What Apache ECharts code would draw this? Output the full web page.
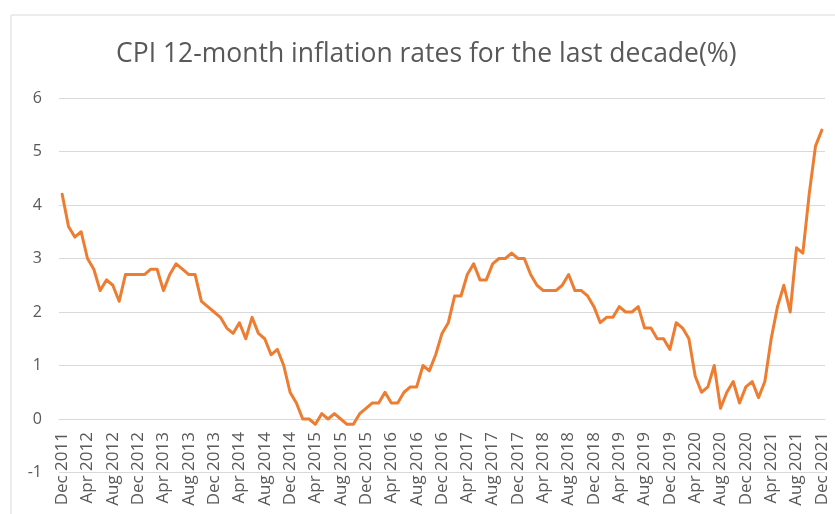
<!DOCTYPE html>
<html>
<head>
<meta charset="utf-8">
<script src="https://cdn.jsdelivr.net/npm/echarts@6/dist/echarts.min.js"></script>
<style>
  html, body { margin: 0; padding: 0; background: #ffffff; }
  #chart { width: 835px; height: 514px; }
</style>
</head>
<body>
<div id="chart"></div>
<script>
// Month names and years used for the category labels
const monthNames = ['Jan','Feb','Mar','Apr','May','Jun','Jul','Aug','Sep','Oct','Nov','Dec'];
const years = [2012, 2013, 2014, 2015, 2016, 2017, 2018, 2019, 2020, 2021];

// CPI 12-month inflation rate (%)
const dec2011 = [4.2];
const rates2012 = [3.6, 3.4, 3.5, 3.0, 2.8, 2.4, 2.6, 2.5, 2.2, 2.7, 2.7, 2.7];
const rates2013 = [2.7, 2.8, 2.8, 2.4, 2.7, 2.9, 2.8, 2.7, 2.7, 2.2, 2.1, 2.0];
const rates2014 = [1.9, 1.7, 1.6, 1.8, 1.5, 1.9, 1.6, 1.5, 1.2, 1.3, 1.0, 0.5];
const rates2015 = [0.3, 0.0, 0.0, -0.1, 0.1, 0.0, 0.1, 0.0, -0.1, -0.1, 0.1, 0.2];
const rates2016 = [0.3, 0.3, 0.5, 0.3, 0.3, 0.5, 0.6, 0.6, 1.0, 0.9, 1.2, 1.6];
const rates2017 = [1.8, 2.3, 2.3, 2.7, 2.9, 2.6, 2.6, 2.9, 3.0, 3.0, 3.1, 3.0];
const rates2018 = [3.0, 2.7, 2.5, 2.4, 2.4, 2.4, 2.5, 2.7, 2.4, 2.4, 2.3, 2.1];
const rates2019 = [1.8, 1.9, 1.9, 2.1, 2.0, 2.0, 2.1, 1.7, 1.7, 1.5, 1.5, 1.3];
const rates2020 = [1.8, 1.7, 1.5, 0.8, 0.5, 0.6, 1.0, 0.2, 0.5, 0.7, 0.3, 0.6];
const rates2021 = [0.7, 0.4, 0.7, 1.5, 2.1, 2.5, 2.0, 3.2, 3.1, 4.2, 5.1, 5.4];

const yTicks = [-1, 0, 1, 2, 3, 4, 5, 6];

const categories = ['Dec 2011'];
years.forEach(y => monthNames.forEach(m => categories.push(m + ' ' + y)));
const values = [].concat(dec2011, rates2012, rates2013, rates2014, rates2015,
  rates2016, rates2017, rates2018, rates2019, rates2020, rates2021);

const gridTop = 98, gridBottom = 41.5, chartH = 514;
// distance from the bottom of the plot (y = -1) up to y = 0
const zeroOffset = (chartH - gridTop - gridBottom) / (yTicks.length - 1) * (0 - yTicks[0]);

const chart = echarts.init(document.getElementById('chart'), null, { renderer: 'canvas' });
chart.setOption({
  animation: false,
  backgroundColor: '#ffffff',
  title: {
    text: 'CPI 12-month inflation rates for the last decade(%)',
    left: 111,
    top: 36,
    textStyle: {
      fontFamily: 'Open Sans',
      fontSize: 26.5,
      fontWeight: 'normal',
      color: '#595959'
    }
  },
  graphic: [{
    type: 'rect',
    shape: { x: 11, y: 15, width: 900, height: 600 },
    style: { fill: 'none', stroke: '#d9d9d9', lineWidth: 1 },
    silent: true,
    z: -1
  }],
  grid: { left: 59, right: 10, top: gridTop, bottom: gridBottom, outerBoundsMode: 'none', containLabel: false },
  xAxis: {
    type: 'category',
    data: categories,
    boundaryGap: true,
    position: 'bottom',
    offset: -zeroOffset,
    axisLine: { show: true, onZero: false, lineStyle: { color: '#d9d9d9', width: 1 } },
    axisTick: { show: false },
    axisLabel: {
      interval: 3,
      rotate: 90,
      margin: 13,
      fontFamily: 'Open Sans',
      fontSize: 17,
      color: '#595959'
    },
    splitLine: { show: false }
  },
  yAxis: {
    type: 'value',
    min: yTicks[0],
    max: yTicks[yTicks.length - 1],
    interval: 1,
    axisLine: { show: false },
    axisTick: { show: false },
    axisLabel: {
      margin: 17,
      fontFamily: 'Open Sans',
      fontSize: 16,
      color: '#595959'
    },
    splitLine: { show: true, lineStyle: { color: '#d9d9d9', width: 1 } }
  },
  series: [{
    type: 'line',
    data: values,
    showSymbol: false,
    symbol: 'none',
    smooth: false,
    lineStyle: { color: '#ed7d31', width: 3, join: 'round', cap: 'round' },
    itemStyle: { color: '#ed7d31' }
  }]
});
</script>
</body>
</html>
